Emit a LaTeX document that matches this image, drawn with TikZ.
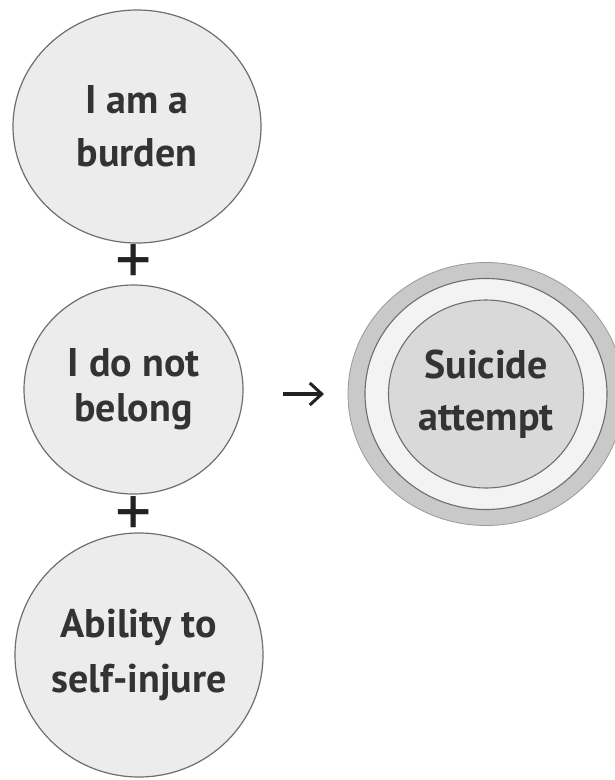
\documentclass[tikz,border=0pt]{standalone}
\usepackage{fontspec}
\setmainfont{PT Sans}
\usetikzlibrary{shapes.geometric,arrows.meta}
\definecolor{circfill}{HTML}{ECECED}
\definecolor{circline}{HTML}{6E6E6E}
\definecolor{txt}{HTML}{333333}
\definecolor{arrowcol}{HTML}{222222}
\definecolor{outerfill}{HTML}{C9C9C9}
\definecolor{ringfill}{HTML}{F3F3F3}
\definecolor{innerfill}{HTML}{D9D9D9}
\tikzset{
  bubble/.style={ellipse, draw=circline, line width=1.2pt, fill=circfill, inner sep=0pt,
    text=txt, align=center, font=\fontsize{40}{53}\selectfont\bfseries},
  ringshape/.style={ellipse, draw=circline, line width=1.1pt, inner sep=0pt},
  plussign/.style={text=arrowcol, inner sep=0pt, font=\fontsize{72}{72}\selectfont},
  flowarrow/.style={-{Straight Barb[length=12pt,width=22pt,line width=3pt]}, line width=3.2pt, draw=arrowcol}
}
\begin{document}
\begin{tikzpicture}[x=1pt,y=-1pt]
\useasboundingbox[fill=white] (0,0) rectangle (615,780);
\node[bubble, minimum width=248pt, minimum height=233pt] (burden) at (137,126.5) {I am a\\burden};
\node[bubble, minimum width=219pt, minimum height=209pt, font=\fontsize{40}{45}\selectfont\bfseries] (belong) at (133.5,389.5) {I do not\\belong};
\node[bubble, minimum width=248pt, minimum height=244pt, font=\fontsize{40}{55}\selectfont\bfseries] (ability) at (139,655) {Ability to\\self-injure};
\node[plussign] (plus1) at (134,265) {+};
\node[plussign] (plus2) at (134,517) {+};
\node[ringshape, fill=outerfill, draw=gray!80, line width=0.8pt, minimum width=276pt, minimum height=263pt] (outer) at (486,394) {};
\node[ringshape, fill=ringfill, minimum width=242pt, minimum height=231pt] (ring) at (486,394) {};
\node[ringshape, fill=innerfill, minimum width=195pt, minimum height=188pt, text=txt, align=center, font=\fontsize{40}{52}\selectfont\bfseries] (suicide) at (486,394) {Suicide\\attempt};
\coordinate (a1) at (283,394);
\coordinate (a2) at (324,394);
\draw[flowarrow] (a1) -- (a2);
\end{tikzpicture}
\end{document}
